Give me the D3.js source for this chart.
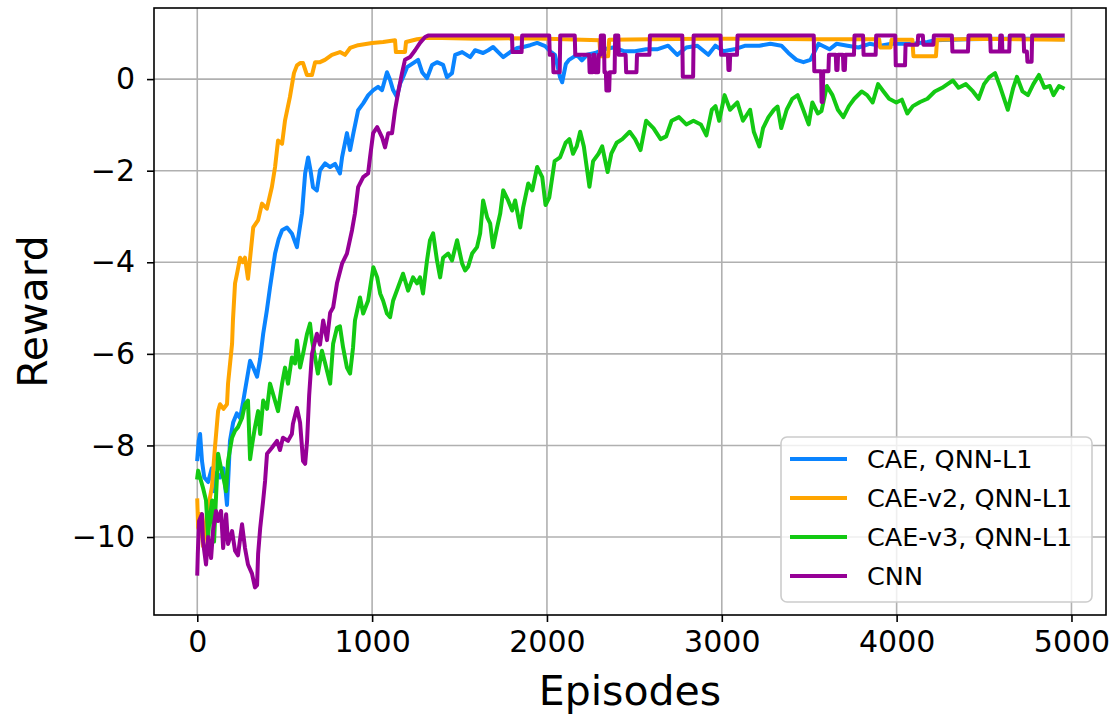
<!DOCTYPE html>
<html>
<head>
<meta charset="utf-8">
<script src="https://cdn.jsdelivr.net/npm/d3@7"></script>
<style>
  html, body { margin: 0; padding: 0; background: #ffffff; }
  svg { display: block; font-family: "DejaVu Sans", sans-serif; }
</style>
</head>
<body>
<svg id="chart" width="1115" height="717"></svg>
<script>
// ---------------- DATA ----------------
const seriesNames = ["CAE, QNN-L1", "CAE-v2, QNN-L1", "CAE-v3, QNN-L1", "CNN"];
const seriesColors = ["#0a84ff", "#ffa500", "#13c913", "#960096"];

const xTicks = [0, 1000, 2000, 3000, 4000, 5000];
const yTicks = [-10, -8, -6, -4, -2, 0];

// CAE, QNN-L1 (blue)
const caeEpisodes = [0, 8, 16, 27, 40, 62, 83, 95, 110, 130, 150, 160, 170, 180, 187, 205, 226, 245, 260, 273, 302, 320, 342, 360, 377, 398, 416, 445, 465, 485, 513, 541, 570, 576, 599, 617, 634, 648, 662, 684, 702, 731, 760, 788, 816, 828, 856, 874, 893, 920, 949, 978, 1007, 1034, 1057, 1085, 1103, 1120, 1142, 1160, 1177, 1200, 1235, 1263, 1286, 1314, 1343, 1371, 1406, 1428, 1457, 1475, 1515, 1561, 1589, 1635, 1664, 1692, 1721, 1750, 1790, 1830, 1864, 1904, 1944, 1990, 2020, 2046, 2075, 2087, 2108, 2126, 2171, 2200, 2229, 2275, 2326, 2378, 2441, 2504, 2567, 2630, 2693, 2745, 2797, 2860, 2923, 2963, 3009, 3072, 3135, 3215, 3278, 3341, 3381, 3427, 3467, 3507, 3553, 3616, 3656, 3719, 3782, 3845, 3908, 3970, 4033, 4096, 4176, 4221, 4400, 4600, 4800, 4950];
const caeReward = [-8.3, -7.9, -7.75, -8.34, -8.7, -8.8, -8.5, -9.0, -8.6, -8.7, -8.5, -8.9, -9.3, -8.5, -7.9, -7.5, -7.3, -7.4, -7.1, -6.8, -6.15, -6.3, -6.5, -6.1, -5.56, -5.05, -4.55, -3.81, -3.5, -3.3, -3.24, -3.37, -3.67, -3.5, -2.93, -2.06, -1.71, -2.0, -2.36, -2.43, -1.99, -1.84, -1.92, -1.85, -2.06, -1.71, -1.18, -1.55, -1.18, -0.68, -0.53, -0.35, -0.24, -0.17, -0.24, 0.15, -0.02, -0.24, -0.39, -0.1, 0.04, 0.26, 0.35, 0.42, 0.15, 0.02, 0.31, 0.37, 0.31, 0.04, 0.13, 0.53, 0.59, 0.48, 0.63, 0.57, 0.63, 0.7, 0.59, 0.48, 0.59, 0.68, 0.7, 0.74, 0.79, 0.72, 0.6, 0.53, 0.04, -0.07, 0.33, 0.42, 0.53, 0.41, 0.53, 0.57, 0.65, 0.69, 0.61, 0.61, 0.65, 0.65, 0.73, 0.53, 0.69, 0.73, 0.53, 0.73, 0.61, 0.65, 0.73, 0.73, 0.77, 0.73, 0.57, 0.42, 0.37, 0.42, 0.77, 0.65, 0.77, 0.73, 0.69, 0.77, 0.73, 0.77, 0.77, 0.77, 0.81, 0.85, 0.87, 0.88, 0.88, 0.87];

// CAE-v2, QNN-L1 (orange)
const caeV2Episodes = [0, 5, 16, 33, 55, 84, 101, 119, 130, 150, 170, 176, 199, 204, 216, 230, 245, 260, 273, 290, 305, 320, 348, 370, 398, 427, 445, 462, 485, 502, 530, 553, 570, 588, 605, 627, 656, 674, 702, 730, 770, 816, 845, 874, 920, 1000, 1063, 1131, 1136, 1188, 1194, 1257, 1314, 1400, 1600, 1800, 2000, 2200, 2300, 2306, 2350, 2356, 2600, 2900, 3200, 3500, 3900, 3906, 3965, 3971, 4090, 4096, 4225, 4231, 4500, 4700, 4950];
const caeV2Reward = [-9.2, -9.8, -9.5, -10.2, -9.5, -8.9, -8.05, -7.25, -7.1, -7.2, -7.1, -6.65, -5.78, -5.27, -4.46, -4.2, -3.9, -4.0, -3.9, -4.36, -3.8, -3.24, -3.08, -2.72, -2.83, -2.35, -1.92, -1.34, -1.41, -0.9, -0.39, 0.13, 0.3, 0.35, 0.35, 0.09, 0.09, 0.37, 0.37, 0.42, 0.53, 0.59, 0.53, 0.68, 0.74, 0.79, 0.81, 0.85, 0.59, 0.59, 0.81, 0.87, 0.9, 0.9, 0.88, 0.89, 0.88, 0.86, 0.85, 0.5, 0.5, 0.86, 0.87, 0.88, 0.88, 0.87, 0.87, 0.69, 0.69, 0.86, 0.86, 0.5, 0.5, 0.86, 0.88, 0.87, 0.86];

// CAE-v3, QNN-L1 (green)
const caeV3Episodes = [0, 5, 16, 33, 50, 62, 68, 85, 96, 105, 119, 136, 153, 165, 176, 199, 216, 233, 256, 273, 290, 302, 313, 330, 348, 360, 377, 399, 416, 433, 462, 485, 502, 519, 541, 559, 570, 588, 605, 628, 645, 656, 674, 690, 713, 731, 760, 777, 799, 816, 834, 856, 874, 891, 902, 931, 949, 977, 1007, 1029, 1046, 1063, 1085, 1103, 1120, 1148, 1177, 1206, 1234, 1257, 1274, 1291, 1314, 1331, 1349, 1371, 1389, 1406, 1435, 1457, 1486, 1515, 1532, 1549, 1572, 1600, 1618, 1635, 1658, 1675, 1692, 1715, 1733, 1750, 1778, 1801, 1818, 1847, 1864, 1893, 1916, 1944, 1973, 1992, 2013, 2044, 2075, 2107, 2128, 2149, 2170, 2190, 2211, 2243, 2264, 2295, 2316, 2347, 2368, 2399, 2431, 2473, 2504, 2535, 2567, 2609, 2650, 2682, 2713, 2755, 2797, 2838, 2880, 2912, 2943, 2964, 2985, 3016, 3047, 3089, 3121, 3162, 3183, 3215, 3236, 3267, 3298, 3319, 3340, 3371, 3403, 3434, 3466, 3497, 3518, 3549, 3570, 3601, 3633, 3664, 3695, 3727, 3758, 3800, 3831, 3863, 3894, 3925, 3957, 3998, 4030, 4061, 4093, 4134, 4176, 4218, 4260, 4291, 4322, 4354, 4396, 4437, 4469, 4500, 4532, 4563, 4594, 4636, 4667, 4688, 4720, 4751, 4782, 4814, 4845, 4876, 4897, 4929, 4950];
const caeV3Reward = [-8.7, -8.55, -8.7, -8.93, -9.2, -10.0, -9.7, -9.2, -10.1, -9.3, -8.18, -8.5, -8.77, -9.0, -8.34, -7.83, -7.68, -7.6, -7.4, -7.1, -7.02, -8.3, -8.0, -7.6, -7.25, -7.75, -7.02, -7.2, -6.65, -6.87, -7.25, -6.65, -6.3, -6.65, -6.08, -6.21, -5.71, -6.3, -6.0, -5.56, -5.34, -5.7, -6.08, -6.43, -5.93, -6.2, -6.65, -5.78, -5.43, -5.4, -5.86, -6.3, -6.43, -5.86, -5.27, -4.77, -5.12, -4.84, -4.11, -4.33, -4.68, -4.84, -5.12, -5.2, -4.84, -4.55, -4.25, -4.62, -4.33, -4.46, -4.33, -4.68, -3.96, -3.52, -3.37, -3.96, -4.33, -3.9, -3.81, -3.96, -3.52, -4.03, -4.18, -4.1, -3.81, -3.67, -3.37, -2.65, -3.02, -3.15, -3.67, -3.24, -2.93, -2.43, -2.65, -2.87, -2.65, -3.24, -2.8, -2.28, -2.43, -1.92, -2.14, -2.75, -2.59, -1.79, -1.71, -1.39, -1.31, -1.63, -1.47, -1.15, -1.47, -2.35, -1.79, -1.63, -1.47, -2.03, -1.63, -1.39, -1.31, -1.15, -1.31, -1.55, -0.91, -1.07, -1.31, -1.25, -0.91, -0.83, -0.99, -0.91, -0.99, -1.23, -0.67, -0.59, -0.91, -0.35, -0.67, -0.51, -0.91, -0.67, -1.15, -1.47, -1.07, -0.83, -0.67, -0.6, -1.07, -0.67, -0.43, -0.35, -0.67, -0.99, -0.51, -0.75, -0.7, -0.15, -0.35, -0.67, -0.83, -0.59, -0.43, -0.27, -0.35, -0.51, -0.11, -0.27, -0.43, -0.51, -0.45, -0.75, -0.59, -0.5, -0.43, -0.27, -0.19, -0.11, -0.03, -0.19, -0.11, -0.27, -0.43, -0.11, 0.05, 0.13, -0.19, -0.67, -0.19, 0.05, -0.27, -0.35, -0.11, 0.09, -0.19, -0.15, -0.35, -0.15, -0.19];

// CNN (purple) as [episode, reward] pairs
const cnnPoints = [
  [0, -10.8], [3, -10.37], [10, -9.65], [27, -9.5], [33, -10.1], [50, -10.6], [62, -10.0], [79, -10.46],
  [90, -9.87], [107, -9.43], [119, -9.65], [136, -9.43], [148, -10.24], [165, -9.5], [176, -10.15],
  [199, -9.87], [216, -10.3], [233, -10.4], [256, -9.72], [273, -10.24], [290, -10.6], [313, -10.8],
  [330, -11.1], [342, -11.05], [348, -10.37], [360, -9.8], [377, -9.2], [388, -8.77], [399, -8.18],
  [427, -8.05], [456, -7.9], [473, -8.1], [490, -7.83], [519, -7.9], [541, -7.75], [547, -7.53],
  [570, -7.18], [588, -7.5], [605, -8.34], [617, -8.4], [628, -7.9], [640, -6.9], [656, -6.0],
  [684, -5.56], [702, -5.8], [720, -5.27], [742, -5.7], [760, -5.1], [777, -4.99], [799, -4.46],
  [828, -4.03], [856, -3.81], [885, -3.3], [902, -2.93], [920, -2.36], [949, -2.14], [977, -2.06],
  [988, -1.71], [1006, -1.18], [1029, -1.05], [1057, -1.27], [1074, -1.49], [1092, -1.18], [1114, -1.18],
  [1131, -0.68], [1148, -0.31], [1171, 0.13], [1188, 0.42], [1217, 0.48], [1246, 0.63], [1274, 0.79],
  [1303, 0.92], [1320, 0.95], [1800, 0.95], [1803, 0.59], [1855, 0.59], [1858, 0.95], [2013, 0.95],
  [2016, 0.53], [2034, 0.53], [2037, 0.15], [2073, 0.15], [2076, 0.95], [2159, 0.95], [2162, 0.53],
  [2241, 0.53], [2244, 0.15], [2262, 0.15], [2265, 0.53], [2272, 0.53], [2275, 0.15], [2293, 0.15],
  [2296, 0.53], [2305, 0.53], [2308, 0.95], [2326, 0.95], [2329, 0.15], [2337, 0.15], [2340, -0.25],
  [2356, -0.25], [2359, 0.15], [2387, 0.15], [2390, 0.95], [2408, 0.95], [2411, 0.53], [2450, 0.53],
  [2453, 0.15], [2512, 0.15], [2515, 0.53], [2586, 0.53], [2589, 0.95], [2774, 0.95], [2777, 0.05],
  [2836, 0.05], [2839, 0.95], [2993, 0.95], [2996, 0.53], [3035, 0.53], [3038, 0.2], [3045, 0.2],
  [3048, 0.53], [3087, 0.53], [3090, 0.95], [3526, 0.95], [3529, 0.17], [3568, 0.17], [3571, -0.5],
  [3577, -0.5], [3580, 0.17], [3610, 0.17], [3613, 0.53], [3652, 0.53], [3655, 0.2], [3662, 0.2],
  [3665, 0.53], [3693, 0.53], [3696, 0.2], [3704, 0.2], [3707, 0.53], [3756, 0.53], [3759, 0.95],
  [3808, 0.95], [3811, 0.53], [3880, 0.53], [3883, 0.95], [3992, 0.95], [3995, 0.3], [4048, 0.3],
  [4051, 0.75], [4120, 0.75], [4123, 0.95], [4150, 0.95], [4153, 0.75], [4210, 0.75], [4213, 0.95],
  [4316, 0.95], [4319, 0.6], [4408, 0.6], [4411, 0.95], [4535, 0.95], [4538, 0.6], [4590, 0.6],
  [4593, 0.95], [4602, 0.95], [4605, 0.6], [4644, 0.6], [4647, 0.95], [4726, 0.95], [4729, 0.6],
  [4745, 0.6], [4748, 0.38], [4772, 0.38], [4775, 0.95], [4950, 0.95]
];

// ---------------- CHART ----------------
const zip = (xs, ys) => xs.map((v, i) => [v, ys[i]]);
const series = [
  {name: seriesNames[0], color: seriesColors[0], pts: zip(caeEpisodes, caeReward)},
  {name: seriesNames[1], color: seriesColors[1], pts: zip(caeV2Episodes, caeV2Reward)},
  {name: seriesNames[2], color: seriesColors[2], pts: zip(caeV3Episodes, caeV3Reward)},
  {name: seriesNames[3], color: seriesColors[3], pts: cnnPoints}
];

const svg = d3.select("#chart");
const plot = {left: 154, right: 1106, top: 8, bottom: 615};

const allPts = series.flatMap(s => s.pts);
const [x0, x1] = d3.extent(allPts, d => d[0]);
const [y0, y1] = d3.extent(allPts, d => d[1]);
const xPad = (x1 - x0) * 0.05, yPad = (y1 - y0) * 0.05;

const x = d3.scaleLinear().domain([x0 - xPad, x1 + xPad]).range([plot.left, plot.right]);
const y = d3.scaleLinear().domain([y0 - yPad, y1 + yPad]).range([plot.bottom, plot.top]);

const gridColor = "#b0b0b0";

// grid
const grid = svg.append("g");
grid.selectAll("line.gx").data(xTicks).join("line")
  .attr("x1", d => x(d)).attr("x2", d => x(d))
  .attr("y1", plot.top).attr("y2", plot.bottom)
  .attr("stroke", gridColor).attr("stroke-width", 1.6);
grid.selectAll("line.gy").data(yTicks).join("line")
  .attr("y1", d => y(d)).attr("y2", d => y(d))
  .attr("x1", plot.left).attr("x2", plot.right)
  .attr("stroke", gridColor).attr("stroke-width", 1.6);

// lines
svg.append("clipPath").attr("id", "clip").append("rect")
  .attr("x", plot.left).attr("y", plot.top)
  .attr("width", plot.right - plot.left).attr("height", plot.bottom - plot.top);

const lineGen = d3.line().x(d => x(d[0])).y(d => y(d[1]));
const linesG = svg.append("g").attr("clip-path", "url(#clip)");
series.forEach(s => {
  linesG.append("path").datum(s.pts)
    .attr("d", lineGen)
    .attr("fill", "none")
    .attr("stroke", s.color)
    .attr("stroke-width", 4)
    .attr("stroke-linejoin", "round")
    .attr("stroke-linecap", "square");
});

// axes
const xAxis = d3.axisBottom(x).tickValues(xTicks).tickSize(7).tickPadding(9).tickFormat(d3.format("d"));
const yAxis = d3.axisLeft(y).tickValues(yTicks).tickSize(7).tickPadding(12).tickFormat(d3.format("d"));

const gx = svg.append("g").attr("transform", `translate(0,${plot.bottom})`).call(xAxis);
const gy = svg.append("g").attr("transform", `translate(${plot.left},0)`).call(yAxis);
[gx, gy].forEach(g => {
  g.select(".domain").remove();
  g.selectAll(".tick line").attr("stroke", "#000").attr("stroke-width", 1.6);
  g.selectAll(".tick text").attr("fill", "#000").attr("font-size", 30)
    .attr("font-family", "DejaVu Sans, sans-serif");
});

// spines
svg.append("rect")
  .attr("x", plot.left).attr("y", plot.top)
  .attr("width", plot.right - plot.left).attr("height", plot.bottom - plot.top)
  .attr("fill", "none").attr("stroke", "#000").attr("stroke-width", 1.6);

// axis labels
svg.append("text")
  .attr("x", (plot.left + plot.right) / 2).attr("y", 705)
  .attr("text-anchor", "middle").attr("font-size", 41).attr("fill", "#000")
  .text("Episodes");
svg.append("text")
  .attr("transform", `translate(47,${(plot.top + plot.bottom) / 2}) rotate(-90)`)
  .attr("text-anchor", "middle").attr("font-size", 41).attr("fill", "#000")
  .text("Reward");

// legend
const lg = svg.append("g");
lg.append("rect")
  .attr("x", 781).attr("y", 437).attr("width", 311).attr("height", 165)
  .attr("rx", 6).attr("fill", "#fff").attr("fill-opacity", 0.8)
  .attr("stroke", "#cccccc").attr("stroke-width", 1.6);
series.forEach((s, i) => {
  const cy = 459 + i * 39;
  lg.append("line").attr("x1", 790).attr("x2", 847).attr("y1", cy).attr("y2", cy)
    .attr("stroke", s.color).attr("stroke-width", 4);
  lg.append("text").attr("x", 867).attr("y", cy).attr("dy", "0.36em")
    .attr("font-size", 25.5).attr("fill", "#000").text(s.name);
});
</script>
</body>
</html>
